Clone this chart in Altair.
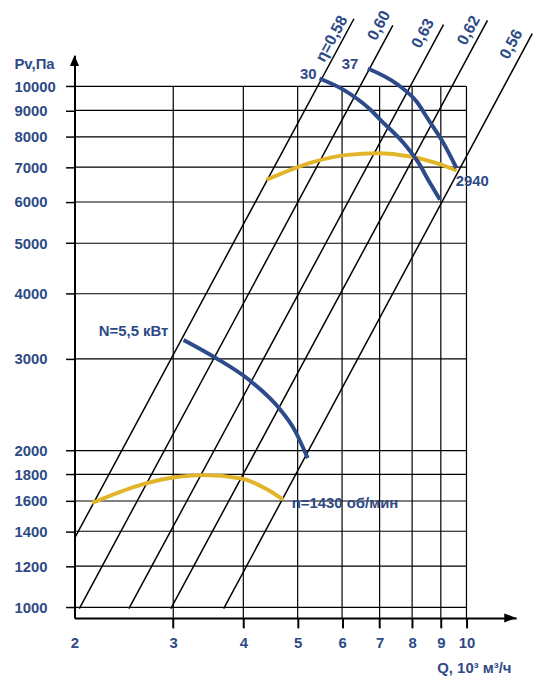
import altair as alt
import pandas as pd

TEXT_BLUE = "#2E4A86"
CURVE_BLUE = "#2D4B8B"
YELLOW = "#E2B42A"
FONT = "Liberation Sans, Arial, sans-serif"

# ---- axis ticks ----
x_ticks = [2, 3, 4, 5, 6, 7, 8, 9, 10]
y_ticks = [1000, 1200, 1400, 1600, 1800, 2000, 3000, 4000, 5000, 6000, 7000, 8000, 9000, 10000]

# ---- efficiency lines (straight in log-log), endpoints ----
eta_labels = ["η=0,58", "0,60", "0,63", "0,62", "0,56"]
eta_q_start = [2.0, 2.04, 2.50, 2.97, 3.69]
eta_p_start = [1356, 994, 994, 994, 994]
eta_q_end = [6.3, 7.39, 9.1, 10.9, 13.1]
eta_p_end = [13490, 13100, 13140, 13390, 12630]
eta_label_q = [5.75, 6.98, 8.36, 10.09, 12.02]
eta_label_p = [12350, 13097, 12645, 12814, 12050]

# ---- blue curves (power) ----
n55_q = [3.13, 3.57, 4.11, 4.66, 4.93, 5.21]
n55_p = [3261, 3013, 2725, 2393, 2196, 1934]
c30_q = [5.47, 6.05, 6.75, 7.03, 7.73, 8.22, 8.61, 8.97]
c30_p = [10358, 9838, 9011, 8620, 7780, 7124, 6524, 6060]
c37_q = [6.67, 7.52, 8.16, 8.56, 9.10, 9.60]
c37_p = [10825, 10102, 9333, 8620, 7780, 6970]

# ---- yellow curves (pressure at fixed speed) ----
y1430_q = [2.15, 2.61, 2.98, 3.39, 3.97, 4.39, 4.71]
y1430_p = [1586, 1715, 1773, 1794, 1768, 1689, 1610]
y2940_q = [4.40, 5.36, 6.14, 6.93, 7.94, 8.85, 9.60]
y2940_p = [6620, 7175, 7390, 7446, 7335, 7124, 6896]

# ---- annotations ----
center_text = ["30", "37"]
center_q = [5.22, 6.20]
center_p = [10564, 11040]
left_text = ["2940", "N=5,5 кВт", "n=1430 об/мин"]
left_q = [9.57, 2.21, 4.88]
left_p = [6577, 3391, 1586]

# ---- layout / scales ----
PLOT_W, PLOT_H = 445, 567
X_PX_DEC = 565.0
Y_PX_DEC = 524.8
q_min = 2.0
q_max = 2.0 * 10 ** (PLOT_W / X_PX_DEC)
p_min = 1000 * 10 ** (-(620 - 609.3) / Y_PX_DEC)
p_max = 1000 * 10 ** ((609.3 - 53) / Y_PX_DEC)

xs = alt.Scale(type="log", domain=[q_min, q_max], nice=False, zero=False)
ys = alt.Scale(type="log", domain=[p_min, p_max], nice=False, zero=False)

xa = alt.Axis(
    values=x_ticks, format="d", grid=False, labelFlush=False, labelOverlap=False,
    domainColor="black", domainWidth=2,
    tickColor="black", tickWidth=2, tickSize=10,
    tickOpacity={"condition": {"test": "datum.value == 2", "value": 0}, "value": 1},
    labelFont=FONT, labelFontSize=15, labelFontWeight="bold", labelColor=TEXT_BLUE,
    labelPadding=8, labelBaseline="top",
    title="Q, 10³ м³/ч", titleX=365, titleY=50, titleAlign="left", titleBaseline="middle",
    titleAngle=0, titleFont=FONT, titleFontSize=15, titleFontWeight="bold", titleColor=TEXT_BLUE,
)
ya = alt.Axis(
    values=y_ticks, format="d", grid=False, labelFlush=False, labelOverlap=False,
    domainColor="black", domainWidth=2,
    tickColor="black", tickWidth=1.5, tickSize=9,
    labelFont=FONT, labelFontSize=15, labelFontWeight="bold", labelColor=TEXT_BLUE,
    labelAlign="left", labelBaseline="middle", labelPadding=52,
    title="Pv,Па", titleX=-61, titleY=8, titleAlign="left", titleBaseline="middle",
    titleAngle=0, titleFont=FONT, titleFontSize=15, titleFontWeight="bold", titleColor=TEXT_BLUE,
)


def X(field):
    return alt.X(field, type="quantitative", scale=xs, axis=xa)


def Y(field):
    return alt.Y(field, type="quantitative", scale=ys, axis=ya)


# grid
grid_h_df = pd.DataFrame({"p": y_ticks, "q0": x_ticks[0], "q1": x_ticks[-1]})
grid_v_df = pd.DataFrame({"q": x_ticks[1:], "p1": y_ticks[-1]})

grid_h = alt.Chart(grid_h_df).mark_rule(color="black", strokeWidth=1.2).encode(
    x=X("q0"), x2="q1", y=Y("p"))
grid_v = alt.Chart(grid_v_df).mark_rule(color="black", strokeWidth=1.2).encode(
    x=X("q"), y=Y("p1"), y2=alt.value(PLOT_H))

# efficiency lines
eta_rows = []
for i, name in enumerate(eta_labels):
    eta_rows.append({"name": name, "ord": 0, "q": eta_q_start[i], "p": eta_p_start[i]})
    eta_rows.append({"name": name, "ord": 1, "q": eta_q_end[i], "p": eta_p_end[i]})
eta_df = pd.DataFrame(eta_rows)
eta_lines = alt.Chart(eta_df).mark_line(color="black", strokeWidth=1.5).encode(
    x=X("q"), y=Y("p"), detail="name:N", order="ord:Q")

eta_lab_df = pd.DataFrame({"t": eta_labels, "q": eta_label_q, "p": eta_label_p})
eta_text = alt.Chart(eta_lab_df).mark_text(
    angle=298.3, align="center", baseline="middle", font=FONT, fontSize=16,
    fontWeight="bold", color=TEXT_BLUE).encode(x=X("q"), y=Y("p"), text="t:N")


def curve_df(groups):
    rows = []
    for name, qs, ps in groups:
        for k, (q, p) in enumerate(zip(qs, ps)):
            rows.append({"name": name, "ord": k, "q": q, "p": p})
    return pd.DataFrame(rows)


yellow_df = curve_df([("1430", y1430_q, y1430_p), ("2940", y2940_q, y2940_p)])
blue_df = curve_df([("5.5", n55_q, n55_p), ("30", c30_q, c30_p), ("37", c37_q, c37_p)])

yellow = alt.Chart(yellow_df).mark_line(color=YELLOW, strokeWidth=4, interpolate="monotone").encode(
    x=X("q"), y=Y("p"), detail="name:N", order="ord:Q")
blue = alt.Chart(blue_df).mark_line(color=CURVE_BLUE, strokeWidth=4, interpolate="monotone").encode(
    x=X("q"), y=Y("p"), detail="name:N", order="ord:Q")

ctext = alt.Chart(pd.DataFrame({"t": center_text, "q": center_q, "p": center_p})).mark_text(
    align="center", baseline="middle", font=FONT, fontSize=15, fontWeight="bold",
    color=TEXT_BLUE).encode(x=X("q"), y=Y("p"), text="t:N")
ltext = alt.Chart(pd.DataFrame({"t": left_text, "q": left_q, "p": left_p})).mark_text(
    align="left", baseline="middle", font=FONT, fontSize=15, fontWeight="bold",
    color=TEXT_BLUE).encode(x=X("q"), y=Y("p"), text="t:N")

# arrow heads at the axis ends
one = pd.DataFrame({"a": [0]})
arrow_x = alt.Chart(one).mark_point(
    shape="M0,0L-1,-0.38L-1,0.38Z", filled=True, color="black", opacity=1, size=576, strokeWidth=0
).encode(x=alt.value(PLOT_W), y=alt.value(PLOT_H))
arrow_y = alt.Chart(one).mark_point(
    shape="M0,0L-0.42,1L0.42,1Z", filled=True, color="black", opacity=1, size=484, strokeWidth=0
).encode(x=alt.value(0), y=alt.value(0))

chart = alt.layer(
    grid_h, grid_v, eta_lines, yellow, blue, eta_text, ctext, ltext, arrow_x, arrow_y
).properties(
    width=PLOT_W, height=PLOT_H,
    autosize=alt.AutoSizeParams(type="none"),
    padding={"left": 67, "top": 45, "right": 25, "bottom": 65},
    background="white",
).configure_view(strokeWidth=0)

chart.save("out.html", embed_options={"renderer": "svg", "actions": False})
